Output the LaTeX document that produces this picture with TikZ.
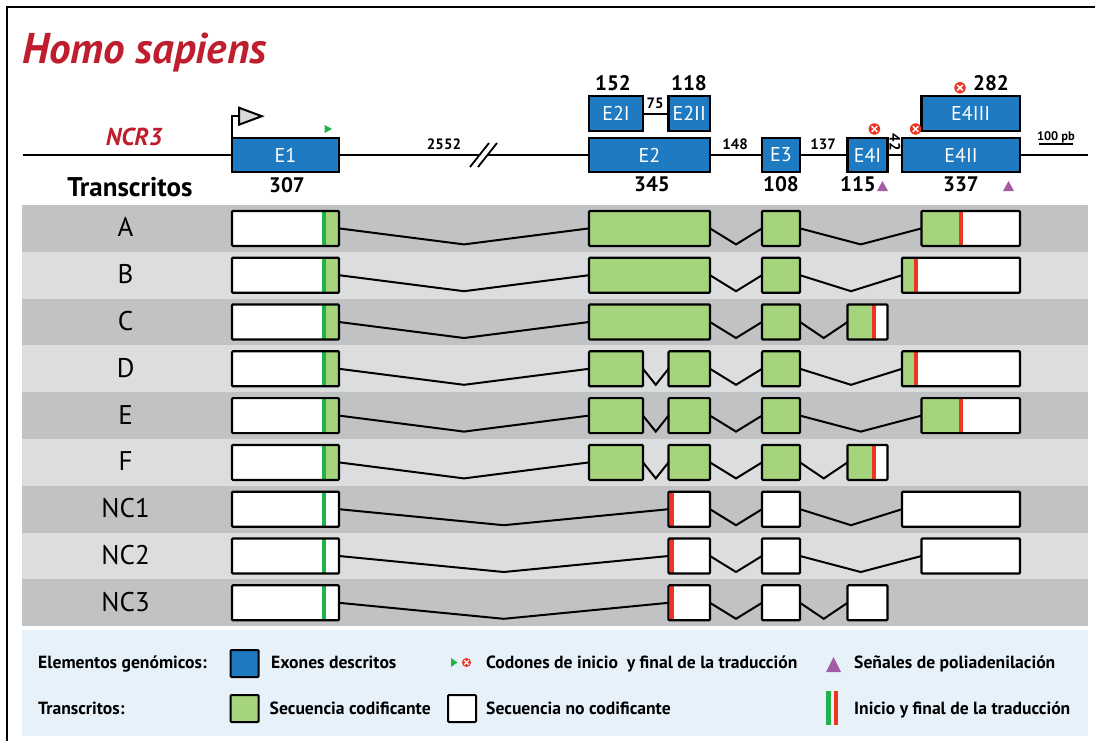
\documentclass[tikz,border=0pt]{standalone}
\usepackage{fontspec}
\setmainfont{PT Sans}
\usetikzlibrary{calc}
\definecolor{exonblue}{HTML}{1E7BC2}
\definecolor{cdsgreen}{HTML}{A6D47D}
\definecolor{startg}{HTML}{22B24C}
\definecolor{stopred}{HTML}{EE3524}
\definecolor{polya}{HTML}{A45BA5}
\definecolor{rowdark}{HTML}{C1C2C4}
\definecolor{rowlight}{HTML}{DCDDDF}
\definecolor{legbg}{HTML}{E6F1FA}
\definecolor{titlered}{HTML}{BE1E2D}
\definecolor{promgray}{HTML}{D9D9D9}
\tikzset{
 gexon/.style={draw, line width=2.2, fill=exonblue, minimum height=34.6, inner sep=0, outer sep=0, text=white, font=\fontsize{20}{20}\selectfont},
 tbx/.style={draw, line width=2.2, minimum height=35, inner sep=0, outer sep=0, rounded corners=1},
 intron/.style={line width=2, line join=miter},
 num/.style={font=\fontsize{21}{21}\selectfont\bfseries, inner sep=0, anchor=base},
 inum/.style={font=\fontsize{15}{15}\selectfont\bfseries, inner sep=0, anchor=base},
 rowlab/.style={font=\fontsize{27}{27}\selectfont, inner sep=0, anchor=base},
 legtxt/.style={font=\fontsize{17.6}{17.6}\selectfont\bfseries, inner sep=0, anchor=base west},
 stopsym/.style={circle, fill=stopred, minimum size=11.5, inner sep=0},
}
\newcommand\stopat[3]{\node[stopsym] (#1) at (#2,#3) {};
 \draw[white, line width=1.5] ($(#1)+(-2.8,-2.8)$) -- ($(#1)+(2.8,2.8)$) ($(#1)+(-2.8,2.8)$) -- ($(#1)+(2.8,-2.8)$);}
\newcommand\gex[5]{\pgfmathsetmacro\gw{#3-#2}\pgfmathsetmacro\gc{(#2+#3)/2}%
 \node[gexon, minimum width=\gw pt] (#1) at (\gc,#4) {#5};}
\newcommand\tseg[3]{\fill[#1] ({#2},{\yc-17.5}) rectangle ({#3},{\yc+17.5});}
\newcommand\tbox[3]{\pgfmathsetmacro\tbw{#3-#2}\pgfmathsetmacro\tbc{(#2+#3)/2}%
 \node[tbx, minimum width=\tbw pt] (#1) at (\tbc,\yc) {};}
\newcommand\intr[2]{\draw[intron] (#1.east) -- ($(#1.east)!0.5!(#2.west)+(0,16)$) -- (#2.west);}
\newcommand\eonecds[1]{\tseg{white}{232}{322}\tseg{startg}{322}{326}\tseg{cdsgreen}{326}{339}\tbox{#1}{232}{339}}
\newcommand\eonenc[1]{\tseg{white}{232}{322}\tseg{startg}{322}{326}\tseg{white}{326}{339}\tbox{#1}{232}{339}}
\newcommand\gbox[3]{\tseg{cdsgreen}{#2}{#3}\tbox{#1}{#2}{#3}}
\newcommand\wbox[3]{\tseg{white}{#2}{#3}\tbox{#1}{#2}{#3}}
\newcommand\efourA[1]{\tseg{cdsgreen}{921.5}{958.5}\tseg{stopred}{958.5}{962.5}\tseg{white}{962.5}{1020}\tbox{#1}{921.5}{1020}}
\newcommand\efourB[1]{\tseg{cdsgreen}{902}{913.5}\tseg{stopred}{913.5}{917.5}\tseg{white}{917.5}{1020}\tbox{#1}{902}{1020}}
\newcommand\efourC[1]{\tseg{cdsgreen}{847.5}{872}\tseg{stopred}{872}{876}\tseg{white}{876}{887.5}\tbox{#1}{847.5}{887.5}}
\newcommand\etwonc[1]{\tseg{white}{668.5}{710}\tseg{stopred}{669.6}{674}\tbox{#1}{668.5}{710}}
\begin{document}
\begin{tikzpicture}[x=1pt,y=-1pt]
\useasboundingbox (0,0) rectangle (1095,740);
\fill[white] (0,0) rectangle (1095,740);
\draw[line width=1.5] (7,745) -- (7,7) -- (1100,7);
% title
\node[anchor=base west, inner sep=0, text=titlered, font=\fontsize{43}{43}\selectfont\bfseries\itshape] (title) at (22,63) {Homo sapiens};
\node[anchor=base, inner sep=0, text=titlered, font=\fontsize{24.5}{24.5}\selectfont\bfseries\itshape] (gene) at (134,145) {NCR3};
\node[anchor=base, inner sep=0, font=\fontsize{27}{27}\selectfont\bfseries] (trs) at (130,196.5) {Transcritos};
% gene line
\coordinate (gl) at (22.8,155); \coordinate (gr) at (1088,155);
\draw[line width=2.2] (gl) -- (gr);
\coordinate (b1a) at (470,167); \coordinate (b1b) at (489,143);
\coordinate (b2a) at (478,167); \coordinate (b2b) at (497,143);
\fill[white] (b1a) -- (b1b) -- (b2b) -- (b2a) -- cycle;
\draw[line width=1.8] (b1a) -- (b1b) (b2a) -- (b2b);
% exons
\gex{E1}{232}{339}{155}{E1}
\gex{E2}{589}{710}{155}{E2}
\gex{E3}{762}{800}{155}{E3}
\gex{E4I}{847.5}{887.5}{155}{E4I}
\gex{E4II}{902}{1020}{155}{E4II}
\gex{E2I}{589}{643}{113.5}{E2I}
\gex{E2II}{668.5}{710}{113.5}{E2II}
\gex{E4III}{921.5}{1020}{113.5}{E4III}
\draw[line width=2] (E2I.east) -- (E2II.west);
% promoter
\draw[line width=2] (E1.north west) -- ++(0,-21.5) coordinate (pk) -- ++(7,0) coordinate (ptip);
\filldraw[fill=promgray, line width=2, line join=miter] (ptip) ++(0,-8.5) -- ++(22.8,8.5) -- ++(-22.8,8.5) -- cycle;
\fill[startg] (324.6,125) -- (332,129) -- (324.6,133) -- cycle;
\stopat{s1}{874.4}{129}
\stopat{s2}{915.6}{129}
\stopat{s3}{960}{87.7}
\fill[polya] (877,191) -- (888,191) -- (882.5,181) -- cycle;
\fill[polya] (1003,191) -- (1014,191) -- (1008.5,181) -- cycle;
% numbers
\node[num] (n307) at (287,192) {307};
\node[num] (n345) at (652,191) {345};
\node[num] (n108) at (781,191) {108};
\node[num] (n115) at (858,191) {115};
\node[num] (n337) at (961,191) {337};
\node[num] (n152) at (613,90) {152};
\node[num] (n118) at (689,90) {118};
\node[num] (n282) at (991,90) {282};
\node[inum] (n2552) at (444,149) {2552};
\node[inum] (n148) at (735,149) {148};
\node[inum] (n137) at (823,149) {137};
\node[inum] (n75) at (655,108) {75};
\node[inum, anchor=center, rotate=-90] (n42) at (895,142) {42};
\node[anchor=base, inner sep=0, font=\fontsize{12.5}{12.5}\selectfont\bfseries] (pb) at (1056,140) {100 pb};
\coordinate (sb1) at (1039,144); \coordinate (sb2) at (1073,144);
\draw[line width=2.5] (sb1) -- (sb2);
% row backgrounds
\foreach \i in {0,2,4,6,8} {\fill[rowdark] (22,{205+\i*46.8}) rectangle (1088,{205+(\i+1)*46.8});}
\foreach \i in {1,3,5,7} {\fill[rowlight] (22,{205+\i*46.8}) rectangle (1088,{205+(\i+1)*46.8});}
% row A
\def\yc{228.4}
\node[rowlab] (lA) at (125.6,\yc+8.5) {A};
\eonecds{A1}\gbox{A2}{589}{710}\gbox{A3}{762}{800}\efourA{A4}
\intr{A1}{A2}\intr{A2}{A3}\intr{A3}{A4}
% row B
\def\yc{275.2}
\node[rowlab] (lB) at (125.6,\yc+8.5) {B};
\eonecds{B1}\gbox{B2}{589}{710}\gbox{B3}{762}{800}\efourB{B4}
\intr{B1}{B2}\intr{B2}{B3}\intr{B3}{B4}
% row C
\def\yc{322.0}
\node[rowlab] (lC) at (125.6,\yc+8.5) {C};
\eonecds{C1}\gbox{C2}{589}{710}\gbox{C3}{762}{800}\efourC{C4}
\intr{C1}{C2}\intr{C2}{C3}\intr{C3}{C4}
% row D
\def\yc{368.8}
\node[rowlab] (lD) at (125.6,\yc+8.5) {D};
\eonecds{D1}\gbox{D2}{589}{643}\gbox{D2b}{668.5}{710}\gbox{D3}{762}{800}\efourB{D4}
\intr{D1}{D2}\intr{D2}{D2b}\intr{D2b}{D3}\intr{D3}{D4}
% row E
\def\yc{415.6}
\node[rowlab] (lE) at (125.6,\yc+8.5) {E};
\eonecds{E1r}\gbox{E2r}{589}{643}\gbox{E2br}{668.5}{710}\gbox{E3r}{762}{800}\efourA{E4r}
\intr{E1r}{E2r}\intr{E2r}{E2br}\intr{E2br}{E3r}\intr{E3r}{E4r}
% row F
\def\yc{462.4}
\node[rowlab] (lF) at (125.6,\yc+8.5) {F};
\eonecds{F1}\gbox{F2}{589}{643}\gbox{F2b}{668.5}{710}\gbox{F3}{762}{800}\efourC{F4}
\intr{F1}{F2}\intr{F2}{F2b}\intr{F2b}{F3}\intr{F3}{F4}
% row NC1
\def\yc{509.2}
\node[rowlab] (lN1) at (125.6,\yc+8.5) {NC1};
\eonenc{N11}\etwonc{N12}\wbox{N13}{762}{800}\wbox{N14}{902}{1020}
\intr{N11}{N12}\intr{N12}{N13}\intr{N13}{N14}
% row NC2
\def\yc{556.0}
\node[rowlab] (lN2) at (125.6,\yc+8.5) {NC2};
\eonenc{N21}\etwonc{N22}\wbox{N23}{762}{800}\wbox{N24}{921.5}{1020}
\intr{N21}{N22}\intr{N22}{N23}\intr{N23}{N24}
% row NC3
\def\yc{602.8}
\node[rowlab] (lN3) at (125.6,\yc+8.5) {NC3};
\eonenc{N31}\etwonc{N32}\wbox{N33}{762}{800}\wbox{N34}{847.5}{887.5}
\intr{N31}{N32}\intr{N32}{N33}\intr{N33}{N34}
% legend
\fill[legbg] (22,630) rectangle (1088,736);
\node[legtxt] (lg1) at (38,668) {Elementos genómicos:};
\node[legtxt] (lg2) at (38,714) {Transcritos:};
\filldraw[fill=exonblue, line width=2, rounded corners=1] (230.5,650) rectangle (258.6,677);
\node[legtxt] (lg3) at (271,668) {Exones descritos};
\fill[startg] (451,658) -- (457.5,662.5) -- (451,667) -- cycle;
\node[stopsym, minimum size=9] (lgs) at (466.5,662.5) {};
\draw[white, line width=1.3] ($(lgs)+(-2.2,-2.2)$) -- ($(lgs)+(2.2,2.2)$) ($(lgs)+(-2.2,2.2)$) -- ($(lgs)+(2.2,-2.2)$);
\node[legtxt] (lg4) at (486,668) {Codones de inicio\ \ y final de la traducción};
\fill[polya] (826,672) -- (841,672) -- (833.5,657) -- cycle;
\node[legtxt] (lg5) at (854,668) {Señales de poliadenilación};
\filldraw[fill=cdsgreen, line width=2, rounded corners=1] (230.5,695) rectangle (258.6,722);
\node[legtxt] (lg6) at (269.5,714) {Secuencia codificante};
\filldraw[fill=white, line width=2, rounded corners=1] (448,695) rectangle (476,722);
\node[legtxt] (lg7) at (486,714) {Secuencia no codificante};
\fill[startg] (826,691) rectangle (830.5,725);
\fill[stopred] (833.5,691) rectangle (838,725);
\node[legtxt] (lg8) at (854,714) {Inicio y final de la traducción};
\end{tikzpicture}
\end{document}
